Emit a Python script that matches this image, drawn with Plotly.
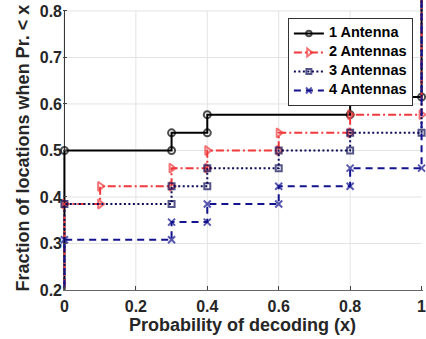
import plotly.graph_objects as go

# ---- data ----
probability = [0.0, 0.1, 0.3, 0.4, 0.6, 0.8, 1.0]
ant1 = [0.500, 0.500, 0.538, 0.577, 0.577, 0.615, 1.0]
ant2 = [0.385, 0.423, 0.462, 0.500, 0.538, 0.577, 1.0]
ant3 = [0.385, 0.385, 0.423, 0.462, 0.500, 0.538, 1.0]
ant4 = [0.308, 0.308, 0.346, 0.385, 0.423, 0.462, 1.0]
names = ["1 Antenna", "2 Antennas", "3 Antennas", "4 Antennas"]
x_ticks = [0, 0.2, 0.4, 0.6, 0.8, 1.0]
x_ticklabels = ["0", "0.2", "0.4", "0.6", "0.8", "1"]
y_ticks = [0.2, 0.3, 0.4, 0.5, 0.6, 0.7, 0.8]
y_ticklabels = ["0.2", "0.3", "0.4", "0.5", "0.6", "0.7", "0.8"]

styles = [
    dict(color="#000000", dash="solid", symbol="circle-open", size=7),
    dict(color="#f0393c", dash="8px,3px,2px,3px", symbol="triangle-right-open", size=8),
    dict(color="#0b0b55", dash="2px,2.5px", symbol="square-open", size=6),
    dict(color="#13138e", dash="7px,5px", symbol="x-thin-open", size=7),
]


def step_path(xs, vals):
    px, py = [0.0], [0.0]
    prev = 0.0
    for x, v in zip(xs, vals):
        if v != prev:
            if not (px[-1] == x and py[-1] == prev):
                px.append(x); py.append(prev)
            px.append(x); py.append(v)
            prev = v
    return px, py


fig = go.Figure()
for name, vals, st in zip(names, [ant1, ant2, ant3, ant4], styles):
    px, py = step_path(probability, vals)
    sizes = [st["size"]] * len(px)
    sizes[0] = 0
    sizes[-1] = 0
    fig.add_trace(go.Scatter(
        x=px, y=py,
        name='<b><span style="font-size:14.5px">' + name + '</span></b>',
        mode="lines+markers",
        line=dict(color=st["color"], width=2, dash=st["dash"]),
        marker=dict(symbol=st["symbol"], size=sizes, color=st["color"],
                    line=dict(color=st["color"], width=2)),
        cliponaxis=False,
    ))

shapes = []
for gx in x_ticks[1:-1]:
    shapes.append(dict(type="line", xref="x", yref="y", x0=gx, x1=gx, y0=0.2, y1=0.8,
                       line=dict(color="#e3e3e3", width=1), layer="below"))
for gy in y_ticks[1:]:
    shapes.append(dict(type="line", xref="x", yref="y", x0=0, x1=1, y0=gy, y1=gy,
                       line=dict(color="#e3e3e3", width=1), layer="below"))
shapes.append(dict(type="line", xref="x", yref="y", x0=0, x1=0, y0=0.2, y1=0.8,
                   line=dict(color="#262626", width=1), layer="below"))

font_family = "Liberation Sans, Arial, sans-serif"
x_lo, x_hi = -0.004, 1.004
px_per_unit = 357.7
left = 64 - (0 - x_lo) * px_per_unit
plot_w = (x_hi - x_lo) * px_per_unit
right = 426 - left - plot_w

fig.update_layout(
    width=426, height=339,
    margin=dict(l=left, r=right, t=0, b=49),
    plot_bgcolor="white", paper_bgcolor="white",
    font=dict(family=font_family, color="#262626"),
    showlegend=True,
    legend=dict(
        x=(413 - left) / plot_w, y=1 - 18 / 290, xanchor="right", yanchor="top",
        bgcolor="white", bordercolor="#333333", borderwidth=1,
        font=dict(size=10, color="#000000", family=font_family, weight="bold"),
        tracegroupgap=0, itemwidth=30,
    ),
    shapes=shapes,
    annotations=[
        dict(text="<b>Fraction of locations when Pr. < x</b>", xref="paper", yref="paper",
             x=(22 - left) / plot_w, y=0.49, xanchor="center", yanchor="middle", textangle=-90,
             showarrow=False, font=dict(size=18, color="#262626")),
        dict(text="<b>Probability of decoding (x)</b>", xref="paper", yref="paper",
             x=(242 - left) / plot_w, y=-(325 - 290) / 290, xanchor="center", yanchor="middle",
             showarrow=False, font=dict(size=18, color="#262626")),
    ],
)
fig.update_xaxes(range=[x_lo, x_hi], tickvals=x_ticks,
                 ticktext=["<b>" + t + "</b>" for t in x_ticklabels],
                 showgrid=False, zeroline=False, showline=True, linecolor="#666666",
                 linewidth=1, ticks="inside", ticklen=4, tickcolor="#444444",
                 ticklabelstandoff=2, ticklabeloverflow="allow",
                 tickfont=dict(size=16, color="#262626"))
fig.update_yaxes(range=[0.2, 0.8236], tickvals=y_ticks,
                 ticktext=["<b>" + t + "</b>" for t in y_ticklabels],
                 showgrid=False, zeroline=False, showline=False,
                 ticks="inside", ticklen=4, tickcolor="#444444",
                 ticklabeloverflow="allow",
                 tickfont=dict(size=16, color="#262626"))

fig.write_html("out.html")
